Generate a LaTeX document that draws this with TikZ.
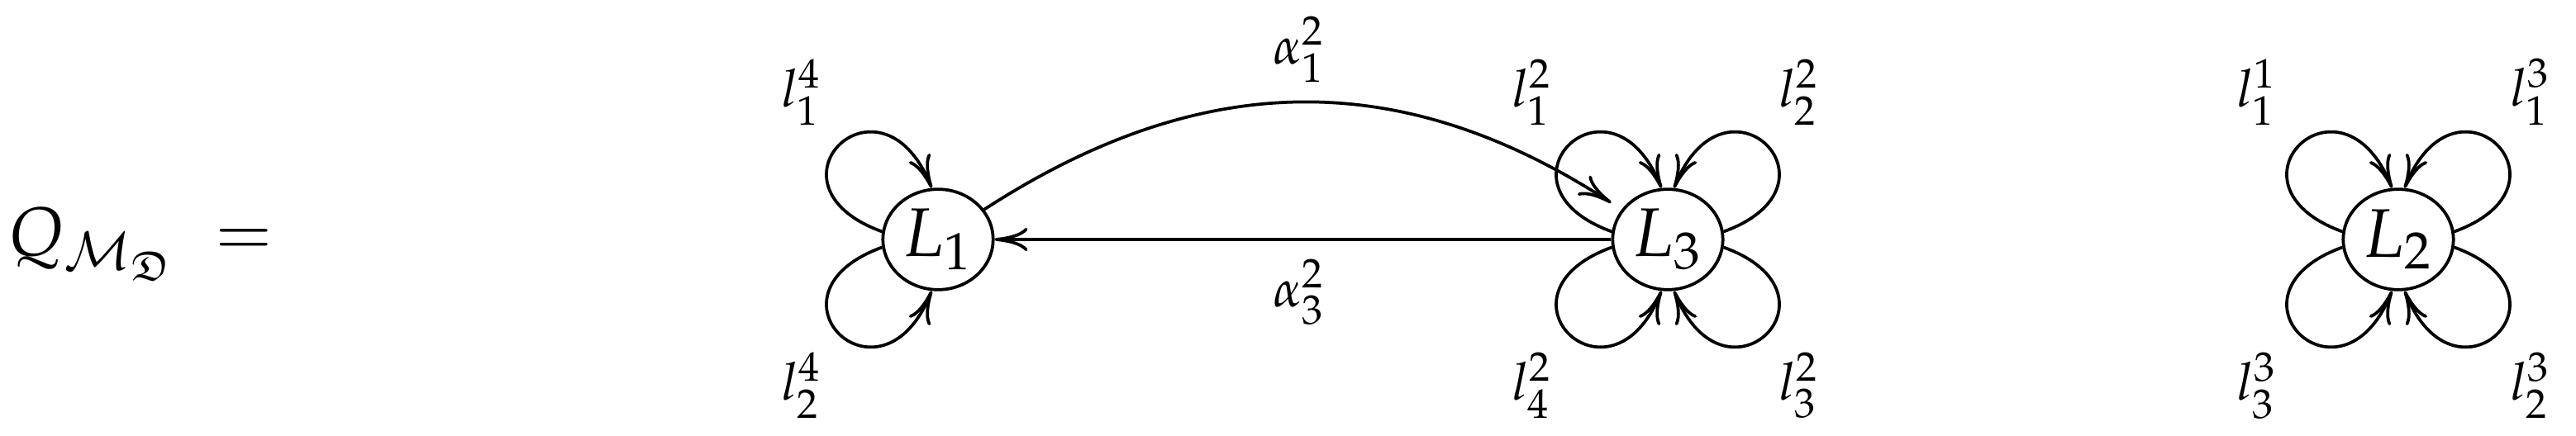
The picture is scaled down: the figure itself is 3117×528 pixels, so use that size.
\documentclass[tikz,border=0pt]{standalone}
\usepackage{amssymb}
\usepackage{mathpazo}
\usetikzlibrary{arrows.meta,shapes.geometric}
\begin{document}
\begin{tikzpicture}[x=0.12pt,y=0.12pt,
  vtx/.style={draw,ellipse,line width=0.45pt,inner sep=0pt,minimum width=16pt,minimum height=14.6pt},
  arr/.style={line width=0.45pt,-{Computer Modern Rightarrow[length=4.8pt,width=3.4pt]}},
  lbl/.style={inner sep=0pt}]
\useasboundingbox (0,0) rectangle (3117,528);
\node[anchor=base west,inner sep=0pt] (Q) at (8,218) {$Q_{\mathcal{M}_{\mathfrak{D}}}\;=$};
\node[vtx] (L1) at (1135,238) {$L_1$};
\node[vtx] (L3) at (2018,238) {$L_3$};
\node[vtx] (L2) at (2902,238) {$L_2$};
% loops L1
\draw[arr] (L1.172) .. controls +(160:165) and +(112:165) .. (L1.97);
\draw[arr] (L1.188) .. controls +(200:165) and +(248:165) .. (L1.263);
% loops L3
\draw[arr] (L3.172) .. controls +(160:165) and +(112:165) .. (L3.97);
\draw[arr] (L3.8) .. controls +(20:165) and +(68:165) .. (L3.83);
\draw[arr] (L3.188) .. controls +(200:165) and +(248:165) .. (L3.263);
\draw[arr] (L3.352) .. controls +(340:165) and +(292:165) .. (L3.277);
% loops L2
\draw[arr] (L2.172) .. controls +(160:165) and +(112:165) .. (L2.97);
\draw[arr] (L2.8) .. controls +(20:165) and +(68:165) .. (L2.83);
\draw[arr] (L2.188) .. controls +(200:165) and +(248:165) .. (L2.263);
\draw[arr] (L2.352) .. controls +(340:165) and +(292:165) .. (L2.277);
% arrows between nodes
\draw[arr,shorten >=1.8pt] (L1) to[out=33,in=147,looseness=1.05] (L3);
\draw[arr] (L3) -- (L1);
% labels
\node[lbl] (a12) at (1573,468) {$\scriptstyle \alpha_1^2$};
\node[lbl] (a32) at (1573,174) {$\scriptstyle \alpha_3^2$};
\node[lbl] (l14) at (971,416) {$\scriptstyle l_1^4$};
\node[lbl] (l24) at (971,61) {$\scriptstyle l_2^4$};
\node[lbl] (l12) at (1855,416) {$\scriptstyle l_1^2$};
\node[lbl] (l22) at (2178,416) {$\scriptstyle l_2^2$};
\node[lbl] (l42) at (1855,61) {$\scriptstyle l_4^2$};
\node[lbl] (l32) at (2178,61) {$\scriptstyle l_3^2$};
\node[lbl] (l11) at (2732,416) {$\scriptstyle l_1^1$};
\node[lbl] (l13) at (3063,416) {$\scriptstyle l_1^3$};
\node[lbl] (l33) at (2732,61) {$\scriptstyle l_3^3$};
\node[lbl] (l23) at (3063,61) {$\scriptstyle l_2^3$};
\end{tikzpicture}
\end{document}
